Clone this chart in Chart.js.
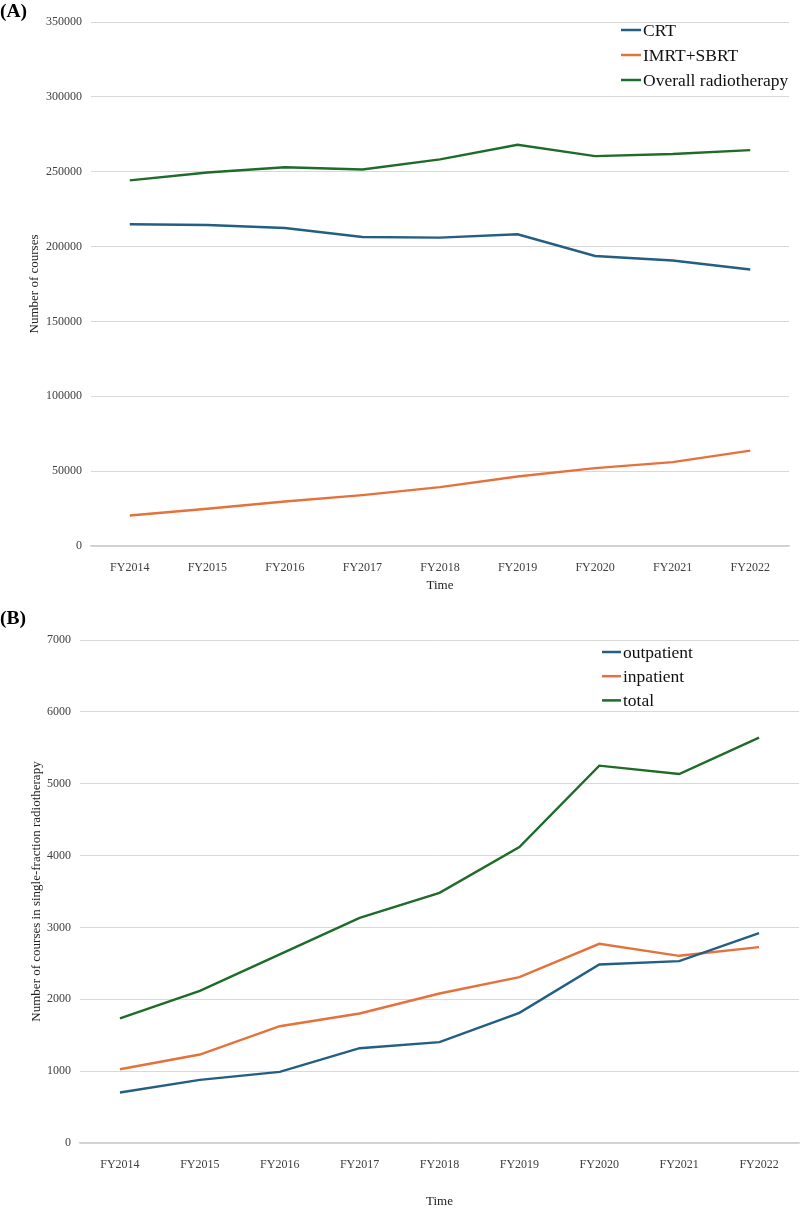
<!DOCTYPE html>
<html>
<head>
<meta charset="utf-8">
<script src="https://cdn.jsdelivr.net/npm/chart.js@4"></script>
<style>
body{margin:0;background:#fff;width:800px;height:1209px;position:relative;overflow:hidden;font-family:"Liberation Serif","DejaVu Serif",serif;}
.panel{position:absolute;left:0;width:800px;}
.tag{position:absolute;left:0;font-weight:bold;font-size:19.5px;color:#000;line-height:22px;}
</style>
</head>
<body>

<div class="panel" style="top:0;height:595px;"><canvas id="chartA"></canvas></div>
<div class="panel" style="top:595px;height:614px;"><canvas id="chartB"></canvas></div>
<div class="tag" style="top:0px;">(A)</div>
<div class="tag" style="top:607px;">(B)</div>

<script>
const years = ["FY2014","FY2015","FY2016","FY2017","FY2018","FY2019","FY2020","FY2021","FY2022"];

const crt = [214900, 214400, 212400, 206400, 206000, 208200, 193700, 190700, 184700];
const imrtSbrt = [20400, 24900, 29700, 34000, 39300, 46400, 52000, 56000, 63700];
const overall = [244200, 249500, 253000, 251500, 258200, 268000, 260400, 261800, 264400];

const outpatient = [702, 878, 989, 1319, 1403, 1811, 2485, 2531, 2921];
const inpatient = [1026, 1231, 1625, 1802, 2081, 2308, 2772, 2605, 2726];
const total = [1733, 2117, 2624, 3134, 3482, 4118, 5251, 5135, 5641];

const ticksA = [0, 50000, 100000, 150000, 200000, 250000, 300000, 350000];
const ticksB = [0, 1000, 2000, 3000, 4000, 5000, 6000, 7000];

const BLUE = "#235e83";
const ORANGE = "#e5713b";
const GREEN = "#1f6b29";
const SERIF = "'Liberation Serif', 'DejaVu Serif', serif";

/* legend drawn inside the plot, like the original */
const floatLegend = {
id:"floatLegend",
afterDraw(chart, args, opts){
const ctx = chart.ctx;
ctx.save();
ctx.font = opts.fontSize + "px " + SERIF;
ctx.textBaseline = "middle";
chart.data.datasets.forEach((ds, i) => {
const y = opts.y + i * opts.gap;
ctx.strokeStyle = ds.borderColor;
ctx.lineWidth = 2.5;
ctx.beginPath();
ctx.moveTo(opts.x, y);
ctx.lineTo(opts.x + opts.lineLen, y);
ctx.stroke();
ctx.fillStyle = "#111";
ctx.fillText(ds.label, opts.x + opts.lineLen + 2, y + 1);
});
ctx.restore();
}
};

function makeChart(id, series, ticks, yTitle, cfg){
const datasets = series.map(s => ({
label:s.label,
data:s.data,
borderColor:s.color,
backgroundColor:s.color,
borderWidth:2.4,
pointRadius:0,
tension:0,
fill:false
}));

return new Chart(document.getElementById(id),{
type:"line",
data:{labels:years, datasets:datasets},
plugins:[floatLegend],
options:{
responsive:true,
maintainAspectRatio:false,
animation:false,
layout:{padding:{top:cfg.top, right:cfg.right, left:0, bottom:0}},
plugins:{
legend:{display:false},
tooltip:{enabled:false},
floatLegend:cfg.legend
},
scales:{
x:{
offset:true,
grid:{display:false},
border:{color:"#d0d0d0", width:1.5},
ticks:{color:"#404040", font:{family:SERIF, size:12}, padding:cfg.xPad, maxRotation:0},
title:{display:true, text:"Time", color:"#222", font:{family:SERIF, size:13}, padding:{top:0, bottom:cfg.xTitlePad}},
afterFit(scale){ scale.height = cfg.xHeight; }
},
y:{
min:0,
max:ticks[ticks.length - 1],
grid:{color:"#d9d9d9", lineWidth:1, drawTicks:false},
border:{display:false},
afterBuildTicks(scale){ scale.ticks = ticks.map(v => ({value:v})); },
ticks:{color:"#404040", font:{family:SERIF, size:12}, padding:9, callback:v => String(v)},
title:{display:true, text:yTitle, color:"#222", font:{family:SERIF, size:13}, padding:{top:cfg.yTitlePad, bottom:0}},
afterFit(scale){ scale.width = cfg.yWidth; }
}
}
}
});
}

makeChart("chartA", [
{label:"CRT", data:crt, color:BLUE},
{label:"IMRT+SBRT", data:imrtSbrt, color:ORANGE},
{label:"Overall radiotherapy", data:overall, color:GREEN}
], ticksA, "Number of courses", {
top:22, right:11, yWidth:91, xHeight:49, xPad:7, xTitlePad:2, yTitlePad:27,
legend:{x:621, y:30, gap:25, lineLen:20, fontSize:17.5}
});

makeChart("chartB", [
{label:"outpatient", data:outpatient, color:BLUE},
{label:"inpatient", data:inpatient, color:ORANGE},
{label:"total", data:total, color:GREEN}
], ticksB, "Number of courses in single-fraction radiotherapy", {
top:45, right:1, yWidth:80, xHeight:66, xPad:7, xTitlePad:0, yTitlePad:29,
legend:{x:602, y:57, gap:24.2, lineLen:19, fontSize:17.5}
});
</script>
</body>
</html>
